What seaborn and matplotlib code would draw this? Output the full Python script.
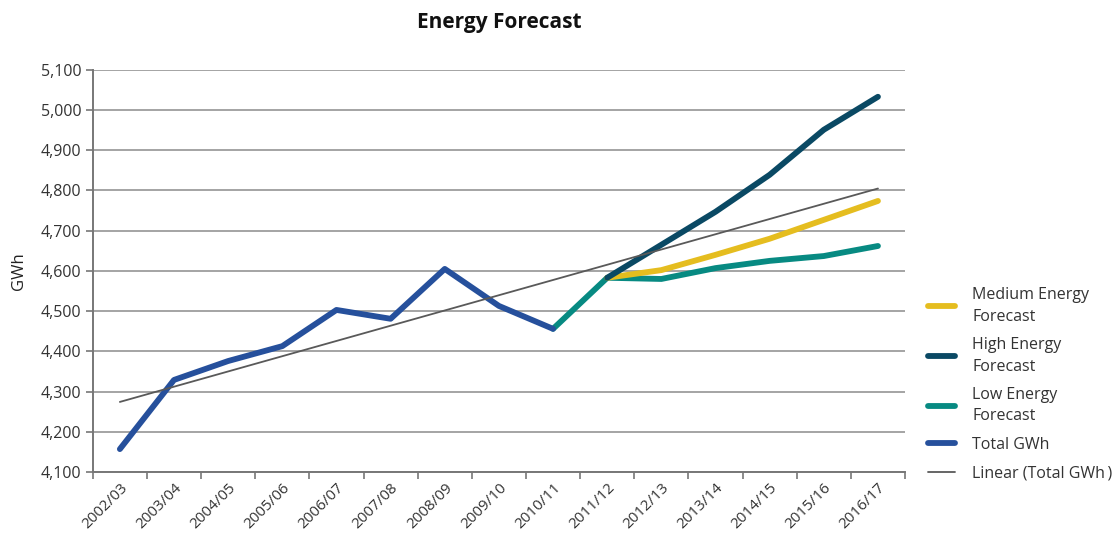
import numpy as np
import pandas as pd
import matplotlib
matplotlib.use("Agg")
import matplotlib.pyplot as plt
import seaborn as sns

# Financial years on the x axis
years = ["2002/03", "2003/04", "2004/05", "2005/06", "2006/07", "2007/08",
         "2008/09", "2009/10", "2010/11", "2011/12", "2012/13", "2013/14",
         "2014/15", "2015/16", "2016/17"]

# Actual energy (GWh), 2002/03 - 2010/11
total_gwh = [4157, 4329, 4376, 4413, 4503, 4481, 4605, 4513, 4456]

# Forecasts (GWh), 2011/12 - 2016/17
medium_fc = [4583, 4602, 4640, 4680, 4727, 4774]
high_fc = [4583, 4665, 4747, 4839, 4951, 5033]
# Low forecast starts from the last actual year (2010/11)
low_fc = [4456, 4583, 4580, 4607, 4625, 4637, 4662]

C_MED = "#E5BD1F"
C_HIGH = "#0A4964"
C_LOW = "#078A82"
C_TOTAL = "#26509C"
C_LIN = "#595959"

sns.set_theme(style="white")
plt.rcParams["font.family"] = ["Open Sans", "DejaVu Sans"]

fig = plt.figure(figsize=(11.18, 5.33), dpi=100)
ax = fig.add_axes([0.083, 0.1144, 0.7265, 0.7546])

idx = np.arange(len(years))
n_tot = len(total_gwh)

df_med = pd.DataFrame({"x": idx[n_tot:], "y": medium_fc})
df_high = pd.DataFrame({"x": idx[n_tot:], "y": high_fc})
df_low = pd.DataFrame({"x": idx[n_tot - 1:], "y": low_fc})
df_tot = pd.DataFrame({"x": idx[:n_tot], "y": total_gwh})

# Least-squares trend on the actuals, extended across all years
slope, intercept = np.polyfit(idx[:n_tot], total_gwh, 1)
df_lin = pd.DataFrame({"x": idx, "y": intercept + slope * idx})

lw = 4.2
kw = dict(solid_capstyle="round", solid_joinstyle="round")
sns.lineplot(data=df_low, x="x", y="y", color=C_LOW, linewidth=lw, ax=ax,
             label="Low Energy\nForecast", zorder=3, **kw)
sns.lineplot(data=df_med, x="x", y="y", color=C_MED, linewidth=lw, ax=ax,
             label="Medium Energy\nForecast", zorder=4, **kw)
sns.lineplot(data=df_high, x="x", y="y", color=C_HIGH, linewidth=lw, ax=ax,
             label="High Energy\nForecast", zorder=5, **kw)
sns.lineplot(data=df_tot, x="x", y="y", color=C_TOTAL, linewidth=lw, ax=ax,
             label="Total GWh", zorder=6, **kw)
sns.lineplot(data=df_lin, x="x", y="y", color=C_LIN, linewidth=1.3, ax=ax,
             label="Linear (Total GWh\u2009)", zorder=7)

ax.set_xlim(-0.5, len(years) - 0.5)
ax.set_ylim(4100, 5100)
ax.set_yticks(np.arange(4100, 5101, 100))
ax.set_yticklabels([f"{v:,}" for v in range(4100, 5101, 100)])
ax.set_xticks(idx)
ax.set_xticklabels(years, rotation=45, ha="right", rotation_mode="anchor")
ax.set_xticks(np.arange(-0.5, len(years), 1), minor=True)

ax.tick_params(axis="x", which="major", length=0, pad=6,
               labelsize=11, labelcolor="#333333")
ax.tick_params(axis="x", which="minor", length=5, width=1.2, color="#777777",
               direction="out", bottom=True)
ax.tick_params(axis="y", length=5, width=1.2, color="#777777", direction="out",
               left=True, labelsize=11.5, labelcolor="#333333", pad=3)

ax.yaxis.grid(True, color="#8C8C8C", linewidth=1.1)
ax.set_axisbelow(True)
for side in ["top", "right"]:
    ax.spines[side].set_visible(False)
for side in ["left", "bottom"]:
    ax.spines[side].set_color("#777777")
    ax.spines[side].set_linewidth(1.4)

ax.set_xlabel("")
ax.set_ylabel("GWh", fontsize=12, color="#222222", labelpad=10)
ax.set_title("Energy Forecast", fontsize=15, fontweight="bold",
             color="#111111", pad=30)

handles, labels = ax.get_legend_handles_labels()
order = ["Medium Energy\nForecast", "High Energy\nForecast",
         "Low Energy\nForecast", "Total GWh", "Linear (Total GWh\u2009)"]
hmap = dict(zip(labels, handles))
leg = ax.legend([hmap[k] for k in order], order, loc="upper left",
                bbox_to_anchor=(1.01, 0.495), frameon=False, fontsize=11.5,
                handlelength=1.7, handletextpad=1.1, labelspacing=0.78,
                labelcolor="#333333")
for t in leg.get_texts():
    t.set_linespacing(1.45)
for line in leg.get_lines():
    line.set_solid_capstyle("round")

fig.savefig("out.png", dpi=100)
